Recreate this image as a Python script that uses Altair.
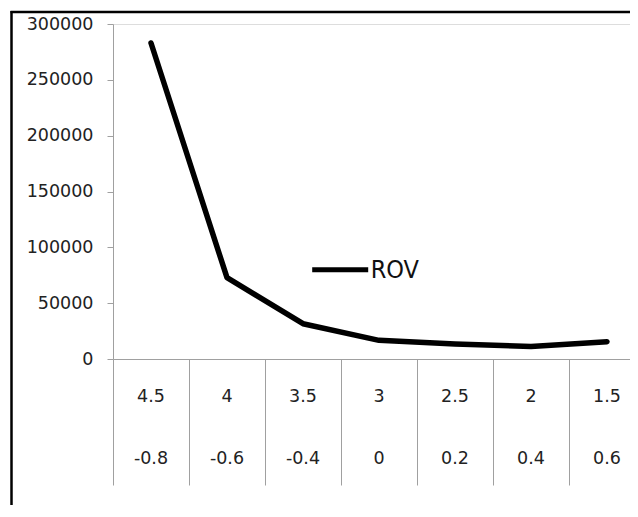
import altair as alt
import pandas as pd

# ---- data ----
top_labels = ["4.5", "4", "3.5", "3", "2.5", "2", "1.5"]
bottom_labels = ["-0.8", "-0.6", "-0.4", "0", "0.2", "0.4", "0.6"]
rov_values = [283000, 72800, 31600, 16700, 13400, 11300, 15500]
series_name = "ROV"
y_ticks = [0, 50000, 100000, 150000, 200000, 250000, 300000]

keys = [f"{a}|{b}" for a, b in zip(top_labels, bottom_labels)]
df = pd.DataFrame({
    "key": keys,
    "top": top_labels,
    "bottom": bottom_labels,
    "value": rov_values,
    "series": [series_name] * len(keys),
})

AXIS_GREY = "#a0a0a0"
LABEL_FONT = "DejaVu Sans"
LABEL_SIZE = 17.5
TEXT_COLOR = "#222222"

x_scale = alt.Scale(type="band", domain=keys, range=[0, 532], paddingInner=0, paddingOuter=0)
y_scale = alt.Scale(domain=[0, 300000], nice=False, zero=True)

line = alt.Chart(df).mark_line(
    strokeWidth=5.5, strokeCap="round", strokeJoin="round"
).encode(
    x=alt.X("key:N", scale=x_scale, sort=None,
            axis=alt.Axis(title=None, labels=False, bandPosition=0, tickSize=126,
                          tickColor=AXIS_GREY, domainColor=AXIS_GREY, tickWidth=1,
                          domainWidth=1, grid=False)),
    y=alt.Y("value:Q", scale=y_scale,
            axis=alt.Axis(title=None, values=y_ticks, format="d", tickSize=6,
                          tickColor=AXIS_GREY, domainColor=AXIS_GREY, labelPadding=14,
                          labelFont=LABEL_FONT, labelFontSize=LABEL_SIZE,
                          labelColor=TEXT_COLOR, grid=False)),
    color=alt.Color("series:N",
                    scale=alt.Scale(domain=[series_name], range=["#000000"]),
                    legend=alt.Legend(orient="none", legendX=196.7, legendY=215.3,
                                      title=None, padding=0, symbolType="stroke",
                                      symbolSize=3136, symbolStrokeWidth=5,
                                      symbolStrokeColor="#000000",
                                      labelFont="Liberation Sans Narrow, DejaVu Sans Condensed, Liberation Sans",
                                      labelFontSize=25, labelColor="#111111",
                                      labelOffset=0)),
)

top_text = alt.Chart(df).mark_text(
    font=LABEL_FONT, fontSize=LABEL_SIZE, color=TEXT_COLOR, baseline="middle"
).encode(
    x=alt.X("key:N", scale=x_scale, sort=None),
    y=alt.value(372.5),
    text="top:N",
)

bottom_text = alt.Chart(df).mark_text(
    font=LABEL_FONT, fontSize=LABEL_SIZE, color=TEXT_COLOR, baseline="middle"
).encode(
    x=alt.X("key:N", scale=x_scale, sort=None),
    y=alt.value(434.5),
    text="bottom:N",
)

frame_df = pd.DataFrame({"a": [0]})
frame_top = alt.Chart(frame_df).mark_rule(color="#000000", strokeWidth=2.5).encode(
    x=alt.value(-102.5), x2=alt.value(540), y=alt.value(-12)
)
frame_left = alt.Chart(frame_df).mark_rule(color="#000000", strokeWidth=2.5).encode(
    x=alt.value(-101.5), y=alt.value(-13), y2=alt.value(520)
)

chart = alt.layer(frame_top, frame_left, line, top_text, bottom_text).properties(
    width=517,
    height=335,
    autosize=alt.AutoSizeParams(type="none"),
    padding={"left": 105, "top": 16, "right": 0, "bottom": 146},
).configure_view(stroke=None).configure(background="white")

chart.save("out.html", embed_options={"renderer": "svg", "actions": False})
